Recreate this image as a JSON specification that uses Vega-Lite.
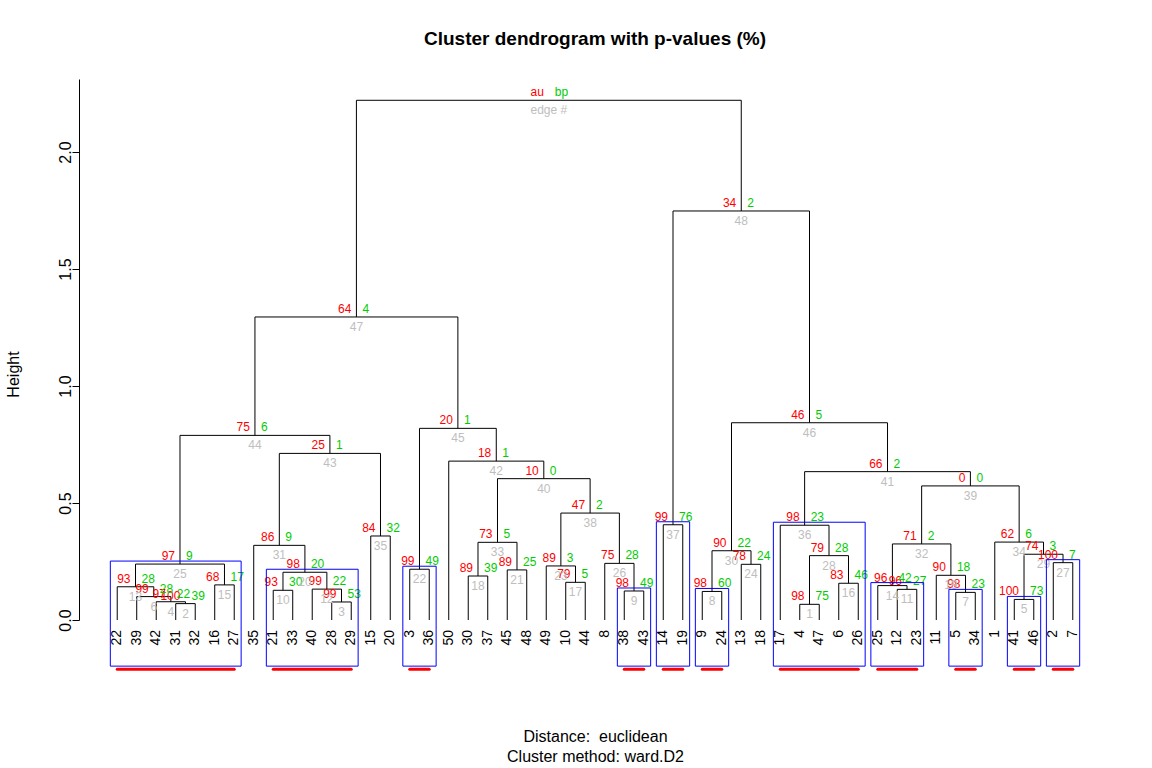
{
  "$schema": "https://vega.github.io/schema/vega-lite/v6.json",
  "width": 1032,
  "height": 541,
  "autosize": {"type": "none"},
  "padding": {"left": 79, "top": 79, "right": 41, "bottom": 148},
  "title": {"text": "Cluster dendrogram with p-values (%)", "fontSize": 19, "fontWeight": "bold", "font": "Liberation Sans", "color": "black", "anchor": "middle", "offset": 30},
  "config": {"view": {"stroke": null}, "font": "Liberation Sans", "axis": {"grid": false}},
  "datasets": {
    "nodes": [
      {"edge": 1, "lx": 36, "rx": 37, "lh": 0, "rh": 0, "h": 0.067, "x": 36.5, "au": 98, "bp": 75},
      {"edge": 2, "lx": 4, "rx": 5, "lh": 0, "rh": 0, "h": 0.070, "x": 4.5, "au": 100, "bp": 39},
      {"edge": 3, "lx": 12, "rx": 13, "lh": 0, "rh": 0, "h": 0.077, "x": 12.5, "au": 99, "bp": 53},
      {"edge": 4, "lx": 3, "rx": 4.5, "lh": 0, "rh": 0.070, "h": 0.078, "x": 3.75, "au": 97, "bp": 22},
      {"edge": 5, "lx": 47, "rx": 48, "lh": 0, "rh": 0, "h": 0.088, "x": 47.5, "au": 100, "bp": 73},
      {"edge": 6, "lx": 2, "rx": 3.75, "lh": 0, "rh": 0.078, "h": 0.100, "x": 2.875, "au": 99, "bp": 28},
      {"edge": 7, "lx": 44, "rx": 45, "lh": 0, "rh": 0, "h": 0.118, "x": 44.5, "au": 98, "bp": 23},
      {"edge": 8, "lx": 31, "rx": 32, "lh": 0, "rh": 0, "h": 0.122, "x": 31.5, "au": 98, "bp": 60},
      {"edge": 9, "lx": 27, "rx": 28, "lh": 0, "rh": 0, "h": 0.124, "x": 27.5, "au": 98, "bp": 49},
      {"edge": 10, "lx": 9, "rx": 10, "lh": 0, "rh": 0, "h": 0.127, "x": 9.5, "au": 93, "bp": 30},
      {"edge": 11, "lx": 41, "rx": 42, "lh": 0, "rh": 0, "h": 0.131, "x": 41.5, "au": 96, "bp": 27},
      {"edge": 12, "lx": 11, "rx": 12.5, "lh": 0, "rh": 0.077, "h": 0.132, "x": 11.75, "au": 99, "bp": 22},
      {"edge": 13, "lx": 1, "rx": 2.875, "lh": 0, "rh": 0.100, "h": 0.142, "x": 1.9375, "au": 93, "bp": 28},
      {"edge": 14, "lx": 40, "rx": 41.5, "lh": 0, "rh": 0.131, "h": 0.147, "x": 40.75, "au": 96, "bp": 42},
      {"edge": 15, "lx": 6, "rx": 7, "lh": 0, "rh": 0, "h": 0.150, "x": 6.5, "au": 68, "bp": 17},
      {"edge": 16, "lx": 38, "rx": 39, "lh": 0, "rh": 0, "h": 0.157, "x": 38.5, "au": 83, "bp": 46},
      {"edge": 17, "lx": 24, "rx": 25, "lh": 0, "rh": 0, "h": 0.161, "x": 24.5, "au": 79, "bp": 5},
      {"edge": 18, "lx": 19, "rx": 20, "lh": 0, "rh": 0, "h": 0.188, "x": 19.5, "au": 89, "bp": 39},
      {"edge": 19, "lx": 43, "rx": 44.5, "lh": 0, "rh": 0.118, "h": 0.191, "x": 43.75, "au": 90, "bp": 18},
      {"edge": 20, "lx": 9.5, "rx": 11.75, "lh": 0.127, "rh": 0.132, "h": 0.204, "x": 10.625, "au": 98, "bp": 20},
      {"edge": 21, "lx": 21, "rx": 22, "lh": 0, "rh": 0, "h": 0.214, "x": 21.5, "au": 89, "bp": 25},
      {"edge": 22, "lx": 16, "rx": 17, "lh": 0, "rh": 0, "h": 0.217, "x": 16.5, "au": 99, "bp": 49},
      {"edge": 23, "lx": 23, "rx": 24.5, "lh": 0, "rh": 0.161, "h": 0.231, "x": 23.75, "au": 89, "bp": 3},
      {"edge": 24, "lx": 33, "rx": 34, "lh": 0, "rh": 0, "h": 0.238, "x": 33.5, "au": 78, "bp": 24},
      {"edge": 25, "lx": 1.9375, "rx": 6.5, "lh": 0.142, "rh": 0.150, "h": 0.239, "x": 4.21875, "au": 97, "bp": 9},
      {"edge": 26, "lx": 26, "rx": 27.5, "lh": 0, "rh": 0.124, "h": 0.242, "x": 26.75, "au": 75, "bp": 28},
      {"edge": 27, "lx": 49, "rx": 50, "lh": 0, "rh": 0, "h": 0.245, "x": 49.5, "au": 100, "bp": 7},
      {"edge": 28, "lx": 36.5, "rx": 38.5, "lh": 0.067, "rh": 0.157, "h": 0.275, "x": 37.5, "au": 79, "bp": 28},
      {"edge": 29, "lx": 47.5, "rx": 49.5, "lh": 0.088, "rh": 0.245, "h": 0.281, "x": 48.5, "au": 74, "bp": 3},
      {"edge": 30, "lx": 31.5, "rx": 33.5, "lh": 0.122, "rh": 0.238, "h": 0.296, "x": 32.5, "au": 90, "bp": 22},
      {"edge": 31, "lx": 8, "rx": 10.625, "lh": 0, "rh": 0.204, "h": 0.319, "x": 9.3125, "au": 86, "bp": 9},
      {"edge": 32, "lx": 40.75, "rx": 43.75, "lh": 0.147, "rh": 0.191, "h": 0.325, "x": 42.25, "au": 71, "bp": 2},
      {"edge": 33, "lx": 19.5, "rx": 21.5, "lh": 0.188, "rh": 0.214, "h": 0.332, "x": 20.5, "au": 73, "bp": 5},
      {"edge": 34, "lx": 46, "rx": 48.5, "lh": 0, "rh": 0.281, "h": 0.333, "x": 47.25, "au": 62, "bp": 6},
      {"edge": 35, "lx": 14, "rx": 15, "lh": 0, "rh": 0, "h": 0.359, "x": 14.5, "au": 84, "bp": 32},
      {"edge": 36, "lx": 35, "rx": 37.5, "lh": 0, "rh": 0.275, "h": 0.405, "x": 36.25, "au": 98, "bp": 23},
      {"edge": 37, "lx": 29, "rx": 30, "lh": 0, "rh": 0, "h": 0.407, "x": 29.5, "au": 99, "bp": 76},
      {"edge": 38, "lx": 23.75, "rx": 26.75, "lh": 0.231, "rh": 0.242, "h": 0.457, "x": 25.25, "au": 47, "bp": 2},
      {"edge": 39, "lx": 42.25, "rx": 47.25, "lh": 0.325, "rh": 0.333, "h": 0.573, "x": 44.75, "au": 0, "bp": 0},
      {"edge": 40, "lx": 20.5, "rx": 25.25, "lh": 0.332, "rh": 0.457, "h": 0.604, "x": 22.875, "au": 10, "bp": 0},
      {"edge": 41, "lx": 36.25, "rx": 44.75, "lh": 0.405, "rh": 0.573, "h": 0.634, "x": 40.5, "au": 66, "bp": 2},
      {"edge": 42, "lx": 18, "rx": 22.875, "lh": 0, "rh": 0.604, "h": 0.679, "x": 20.4375, "au": 18, "bp": 1},
      {"edge": 43, "lx": 9.3125, "rx": 14.5, "lh": 0.319, "rh": 0.359, "h": 0.712, "x": 11.90625, "au": 25, "bp": 1},
      {"edge": 44, "lx": 4.21875, "rx": 11.90625, "lh": 0.239, "rh": 0.712, "h": 0.789, "x": 8.0625, "au": 75, "bp": 6},
      {"edge": 45, "lx": 16.5, "rx": 20.4375, "lh": 0.217, "rh": 0.679, "h": 0.819, "x": 18.46875, "au": 20, "bp": 1},
      {"edge": 46, "lx": 32.5, "rx": 40.5, "lh": 0.296, "rh": 0.634, "h": 0.843, "x": 36.5, "au": 46, "bp": 5},
      {"edge": 47, "lx": 8.0625, "rx": 18.46875, "lh": 0.789, "rh": 0.819, "h": 1.295, "x": 13.265625, "au": 64, "bp": 4},
      {"edge": 48, "lx": 29.5, "rx": 36.5, "lh": 0.407, "rh": 0.843, "h": 1.748, "x": 33, "au": 34, "bp": 2},
      {"edge": "edge #", "lx": 13.265625, "rx": 33, "lh": 1.295, "rh": 1.748, "h": 2.221, "x": 23.1328125, "au": "au", "bp": "bp"}
    ],
    "leaves": [
      {"pos": 1, "label": "22"}, {"pos": 2, "label": "39"}, {"pos": 3, "label": "42"}, {"pos": 4, "label": "31"},
      {"pos": 5, "label": "32"}, {"pos": 6, "label": "16"}, {"pos": 7, "label": "27"}, {"pos": 8, "label": "35"},
      {"pos": 9, "label": "21"}, {"pos": 10, "label": "33"}, {"pos": 11, "label": "40"}, {"pos": 12, "label": "28"},
      {"pos": 13, "label": "29"}, {"pos": 14, "label": "15"}, {"pos": 15, "label": "20"}, {"pos": 16, "label": "3"},
      {"pos": 17, "label": "36"}, {"pos": 18, "label": "50"}, {"pos": 19, "label": "30"}, {"pos": 20, "label": "37"},
      {"pos": 21, "label": "45"}, {"pos": 22, "label": "48"}, {"pos": 23, "label": "49"}, {"pos": 24, "label": "10"},
      {"pos": 25, "label": "44"}, {"pos": 26, "label": "8"}, {"pos": 27, "label": "38"}, {"pos": 28, "label": "43"},
      {"pos": 29, "label": "14"}, {"pos": 30, "label": "19"}, {"pos": 31, "label": "9"}, {"pos": 32, "label": "24"},
      {"pos": 33, "label": "13"}, {"pos": 34, "label": "18"}, {"pos": 35, "label": "17"}, {"pos": 36, "label": "4"},
      {"pos": 37, "label": "47"}, {"pos": 38, "label": "6"}, {"pos": 39, "label": "26"}, {"pos": 40, "label": "25"},
      {"pos": 41, "label": "12"}, {"pos": 42, "label": "23"}, {"pos": 43, "label": "11"}, {"pos": 44, "label": "5"},
      {"pos": 45, "label": "34"}, {"pos": 46, "label": "1"}, {"pos": 47, "label": "41"}, {"pos": 48, "label": "46"},
      {"pos": 49, "label": "2"}, {"pos": 50, "label": "7"}
    ],
    "boxes": [
      {"edge": 37, "from": 29, "to": 30, "h": 0.407},
      {"edge": 36, "from": 35, "to": 39, "h": 0.405},
      {"edge": 27, "from": 49, "to": 50, "h": 0.245},
      {"edge": 25, "from": 1, "to": 7, "h": 0.239},
      {"edge": 22, "from": 16, "to": 17, "h": 0.217},
      {"edge": 20, "from": 9, "to": 13, "h": 0.204},
      {"edge": 14, "from": 40, "to": 42, "h": 0.147},
      {"edge": 9, "from": 27, "to": 28, "h": 0.124},
      {"edge": 8, "from": 31, "to": 32, "h": 0.122},
      {"edge": 7, "from": 44, "to": 45, "h": 0.118},
      {"edge": 5, "from": 47, "to": 48, "h": 0.088}
    ]
  },
  "layer": [
    {
      "data": {"name": "nodes"},
      "mark": {"type": "rule", "color": "black", "strokeWidth": 1},
      "encoding": {
        "x": {"field": "lx", "type": "quantitative", "title": ["Distance: \u00a0euclidean", "Cluster method: ward.D2"],
              "scale": {"domain": [-0.96, 51.96], "nice": false, "zero": false},
              "axis": {"domain": false, "ticks": false, "labels": false, "grid": false,
                       "title": ["Distance: \u00a0euclidean", "Cluster method: ward.D2"],
                       "titleFont": "Liberation Sans", "titleFontSize": 16, "titleFontWeight": "normal", "titleColor": "black",
                       "titleLineHeight": 20, "titleBaseline": "top", "titleY": 108}},
        "x2": {"field": "rx"},
        "y": {"field": "h", "type": "quantitative", "title": "Height",
              "scale": {"domain": [0, 2.312], "nice": false, "zero": false},
              "axis": {"values": [0, 0.5, 1, 1.5, 2], "format": ".1f", "labelAngle": 270, "labelAlign": "center", "labelBaseline": "alphabetic",
                       "labelFont": "Liberation Sans", "labelFontSize": 16, "labelColor": "black", "labelPadding": 2,
                       "tickSize": 7, "tickColor": "black", "domainColor": "black", "grid": false,
                       "title": "Height", "titleFont": "Liberation Sans", "titleFontSize": 16, "titleFontWeight": "normal", "titleColor": "black",
                       "titleAngle": 270, "titleX": -66, "titleY": 295, "titleAlign": "center", "titleBaseline": "middle"}}
      }
    },
    {
      "data": {"name": "nodes"},
      "mark": {"type": "rule", "color": "black", "strokeWidth": 1},
      "encoding": {
        "x": {"field": "lx", "type": "quantitative", "title": ["Distance: \u00a0euclidean", "Cluster method: ward.D2"]},
        "y": {"field": "lh", "type": "quantitative", "title": "Height"},
        "y2": {"field": "h"}
      }
    },
    {
      "data": {"name": "nodes"},
      "mark": {"type": "rule", "color": "black", "strokeWidth": 1},
      "encoding": {
        "x": {"field": "rx", "type": "quantitative", "title": ["Distance: \u00a0euclidean", "Cluster method: ward.D2"]},
        "y": {"field": "rh", "type": "quantitative", "title": "Height"},
        "y2": {"field": "h"}
      }
    },
    {
      "data": {"name": "nodes"},
      "mark": {"type": "text", "color": "#FF0000", "fontSize": 12, "font": "Liberation Sans", "align": "right", "baseline": "middle", "dx": -5, "dy": -8},
      "encoding": {
        "x": {"field": "x", "type": "quantitative", "title": ["Distance: \u00a0euclidean", "Cluster method: ward.D2"]},
        "y": {"field": "h", "type": "quantitative", "title": "Height"},
        "text": {"field": "au", "type": "nominal"}
      }
    },
    {
      "data": {"name": "nodes"},
      "mark": {"type": "text", "color": "#00CD00", "fontSize": 12, "font": "Liberation Sans", "align": "left", "baseline": "middle", "dx": 6, "dy": -8},
      "encoding": {
        "x": {"field": "x", "type": "quantitative", "title": ["Distance: \u00a0euclidean", "Cluster method: ward.D2"]},
        "y": {"field": "h", "type": "quantitative", "title": "Height"},
        "text": {"field": "bp", "type": "nominal"}
      }
    },
    {
      "data": {"name": "nodes"},
      "mark": {"type": "text", "color": "#BEBEBE", "fontSize": 12, "font": "Liberation Sans", "align": "center", "baseline": "middle", "dy": 10},
      "encoding": {
        "x": {"field": "x", "type": "quantitative", "title": ["Distance: \u00a0euclidean", "Cluster method: ward.D2"]},
        "y": {"field": "h", "type": "quantitative", "title": "Height"},
        "text": {"field": "edge", "type": "nominal"}
      }
    },
    {
      "data": {"name": "leaves"},
      "mark": {"type": "text", "color": "black", "fontSize": 14, "font": "Liberation Sans", "angle": 270, "align": "right", "baseline": "middle", "yOffset": 10},
      "encoding": {
        "x": {"field": "pos", "type": "quantitative", "title": ["Distance: \u00a0euclidean", "Cluster method: ward.D2"]},
        "y": {"datum": 0, "type": "quantitative", "title": "Height"},
        "text": {"field": "label", "type": "nominal"}
      }
    },
    {
      "data": {"name": "boxes"},
      "mark": {"type": "rect", "fillOpacity": 0, "stroke": "#0000FF", "strokeWidth": 1, "xOffset": -6.9, "x2Offset": 6.9, "yOffset": -3, "y2Offset": -3},
      "encoding": {
        "x": {"field": "from", "type": "quantitative", "title": ["Distance: \u00a0euclidean", "Cluster method: ward.D2"]},
        "x2": {"field": "to"},
        "y": {"field": "h", "type": "quantitative", "title": "Height"},
        "y2": {"datum": -0.21}
      }
    },
    {
      "data": {"name": "boxes"},
      "mark": {"type": "rule", "color": "#FF0000", "strokeWidth": 3, "strokeCap": "round"},
      "encoding": {
        "x": {"field": "from", "type": "quantitative", "title": ["Distance: \u00a0euclidean", "Cluster method: ward.D2"]},
        "x2": {"field": "to"},
        "y": {"datum": -0.21, "type": "quantitative", "title": "Height"}
      }
    }
  ]
}
